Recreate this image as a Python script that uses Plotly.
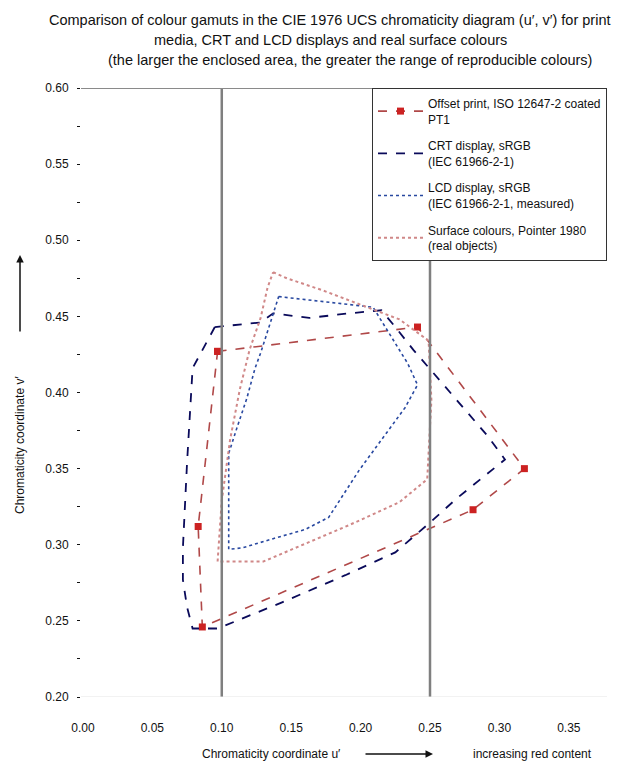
import plotly.graph_objects as go

# ---- data (CIE 1976 u', v' chromaticity coordinates) ----
print_u = [0.097, 0.241, 0.318, 0.281, 0.086, 0.083, 0.097]
print_v = [0.427, 0.443, 0.350, 0.323, 0.246, 0.312, 0.427]

crt_u = [0.095, 0.128, 0.137, 0.163, 0.192, 0.215, 0.225, 0.238, 0.257, 0.274, 0.291,
         0.304, 0.293, 0.270, 0.248, 0.225, 0.189, 0.143, 0.097, 0.079, 0.075, 0.072,
         0.072, 0.075, 0.079, 0.095]
crt_v = [0.443, 0.446, 0.452, 0.449, 0.452, 0.454, 0.443, 0.428, 0.408, 0.390, 0.372,
         0.356, 0.348, 0.331, 0.313, 0.295, 0.280, 0.262, 0.245, 0.245, 0.259, 0.277,
         0.298, 0.354, 0.416, 0.443]

lcd_u = [0.141, 0.161, 0.187, 0.209, 0.234, 0.241, 0.232, 0.215, 0.199, 0.177, 0.160,
         0.137, 0.115, 0.105, 0.105, 0.111, 0.118, 0.124, 0.128, 0.134, 0.141]
lcd_v = [0.463, 0.461, 0.458, 0.456, 0.419, 0.405, 0.390, 0.369, 0.349, 0.318, 0.310,
         0.304, 0.298, 0.297, 0.360, 0.377, 0.396, 0.416, 0.426, 0.443, 0.463]

surf_u = [0.137, 0.147, 0.173, 0.199, 0.228, 0.249, 0.251, 0.248, 0.228, 0.192, 0.154,
          0.130, 0.097, 0.100, 0.106, 0.113, 0.120, 0.128, 0.133, 0.137]
surf_v = [0.479, 0.475, 0.467, 0.458, 0.448, 0.434, 0.395, 0.343, 0.328, 0.313, 0.298,
          0.289, 0.289, 0.329, 0.369, 0.402, 0.428, 0.449, 0.469, 0.479]

x_ticks = [0.00, 0.05, 0.10, 0.15, 0.20, 0.25, 0.30, 0.35]
y_ticks = [0.20, 0.25, 0.30, 0.35, 0.40, 0.45, 0.50, 0.55, 0.60]
ref_lines_u = [0.10, 0.25]

names = [
    "Offset print, ISO 12647-2 coated<br>PT1",
    "CRT display, sRGB<br>(IEC 61966-2-1)",
    "LCD display, sRGB<br>(IEC 61966-2-1, measured)",
    "Surface colours, Pointer 1980<br>(real objects)",
]

title_lines = [
    "Comparison of colour gamuts in the CIE 1976 UCS chromaticity diagram (u′, v′) for print",
    "media, CRT and LCD displays and real surface colours",
    "(the larger the enclosed area, the greater the range of reproducible colours)",
]

FONT = "Liberation Sans, Arial, sans-serif"

fig = go.Figure()

fig.add_trace(go.Scatter(
    x=print_u, y=print_v, name=names[0], mode="lines+markers", legendgroup="g1",
    line=dict(color="#b04848", width=1.6, dash="dash"),
    marker=dict(symbol="square", size=7, color="#cc2222"),
))
fig.add_trace(go.Scatter(
    x=crt_u, y=crt_v, name=names[1], mode="lines", legendgroup="g2",
    line=dict(color="#0a0a5a", width=1.8, dash="dash"),
))
fig.add_trace(go.Scatter(
    x=lcd_u, y=lcd_v, name=names[2], mode="lines", legendgroup="g3",
    line=dict(color="#2848a0", width=1.6, dash="dot"),
))
fig.add_trace(go.Scatter(
    x=surf_u, y=surf_v, name=names[3], mode="lines", legendgroup="g4",
    line=dict(color="#d08888", width=2, dash="dot"),
))

shapes = []
for u in ref_lines_u:
    shapes.append(dict(type="line", xref="x", yref="y", x0=u, x1=u, y0=0.20, y1=0.60,
                       line=dict(color="#7f7f7f", width=2.5), layer="above"))
shapes.append(dict(type="line", xref="paper", yref="y", x0=0, x1=1, y0=0.60, y1=0.60,
                   line=dict(color="#8a8a8a", width=2)))
shapes.append(dict(type="line", xref="paper", yref="y", x0=0, x1=1, y0=0.20, y1=0.20,
                   line=dict(color="#e4e4e4", width=1)))

annotations = []
for i, (t, py) in enumerate(zip(title_lines, [20, 40, 60])):
    annotations.append(dict(text=t, xref="paper", yref="paper",
                            x=(330 - 81) / 526 if i != 2 else (350 - 81) / 526,
                            y=(697 - py) / 609, xanchor="center", yanchor="middle",
                            showarrow=False, font=dict(family=FONT, size=14.5, color="#111")))
# x-axis title with arrow
annotations.append(dict(text="Chromaticity coordinate u′", xref="paper", yref="paper",
                        x=(271 - 81) / 526, y=(697 - 754) / 609, showarrow=False,
                        xanchor="center", yanchor="middle",
                        font=dict(family=FONT, size=12, color="#111")))
annotations.append(dict(text="increasing red content", xref="paper", yref="paper",
                        x=(532 - 81) / 526, y=(697 - 754) / 609, showarrow=False,
                        xanchor="center", yanchor="middle",
                        font=dict(family=FONT, size=12, color="#111")))
annotations.append(dict(text="", xref="paper", yref="paper",
                        x=(433 - 81) / 526, y=(697 - 754) / 609, ax=-69, ay=0,
                        showarrow=True, arrowhead=2, arrowsize=1, arrowwidth=1.5,
                        arrowcolor="#111"))
# y-axis title with arrow
annotations.append(dict(text="Chromaticity coordinate v′", xref="paper", yref="paper",
                        x=(20 - 81) / 526, y=(697 - 445) / 609, showarrow=False,
                        textangle=-90, xanchor="center", yanchor="middle",
                        font=dict(family=FONT, size=12, color="#111")))
annotations.append(dict(text="", xref="paper", yref="paper",
                        x=(20 - 81) / 526, y=(697 - 255) / 609, ax=0, ay=78,
                        showarrow=True, arrowhead=2, arrowsize=1, arrowwidth=1.5,
                        arrowcolor="#111"))

fig.update_layout(
    width=634, height=767,
    margin=dict(l=81, r=27, t=88, b=70),
    paper_bgcolor="white", plot_bgcolor="white",
    font=dict(family=FONT, size=12, color="#111"),
    showlegend=True,
    legend=dict(x=(372 - 81) / 526, y=1, xanchor="left", yanchor="top",
                bgcolor="white", bordercolor="#333", borderwidth=1,
                font=dict(family=FONT, size=12, color="#111"),
                tracegroupgap=8, itemwidth=45),
    shapes=shapes, annotations=annotations,
    xaxis=dict(range=[-0.0014, 0.3775], tickvals=x_ticks, tickformat=".2f",
               showgrid=False, zeroline=False, showline=False, ticks="",
               ticklabelstandoff=22, tickfont=dict(size=12)),
    yaxis=dict(range=[0.20, 0.60], tickvals=y_ticks, tickformat=".2f",
               showgrid=False, zeroline=False, showline=False,
               ticks="outside", ticklen=3, tickcolor="#111",
               minor=dict(dtick=0.025, ticks="outside", ticklen=3, tickcolor="#111"),
               ticklabelstandoff=6, tickfont=dict(size=12)),
)

fig.write_html("out.html", config={"displayModeBar": False},
               post_script="document.body.style.margin='0';document.body.style.padding='0';")
